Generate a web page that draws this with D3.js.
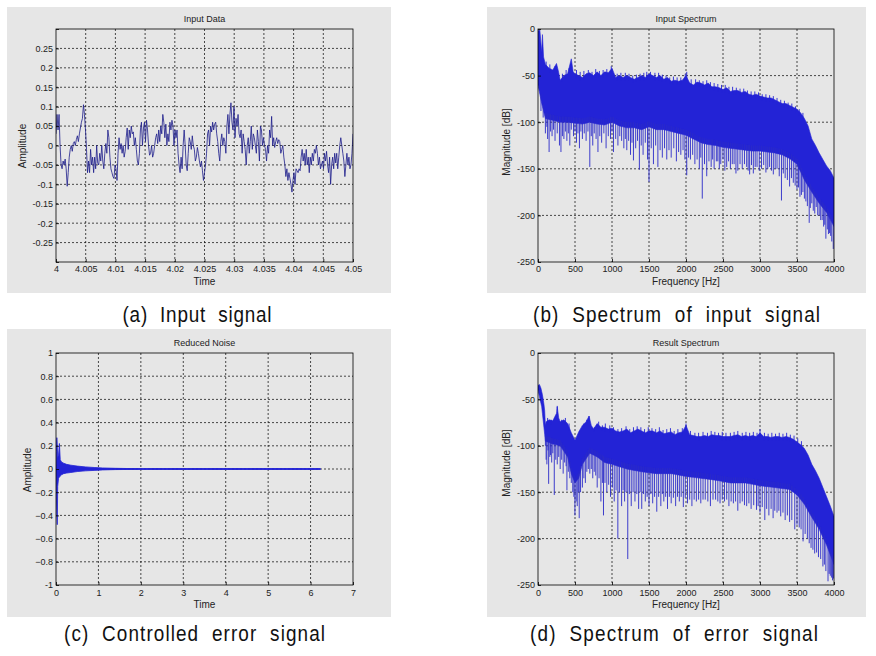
<!DOCTYPE html>
<html><head><meta charset="utf-8">
<script src="https://cdn.jsdelivr.net/npm/d3@7"></script>
<style>
body{margin:0;background:#fff;}
text{font-family:"Liberation Sans",Arial,Helvetica,sans-serif;}
text.cap{white-space:pre;}
</style>
</head><body>
<svg id="chart" width="876" height="656"></svg>
<script>
// ---------------- DATA ----------------
// (a) Input Data: time 4.00 .. 4.05 s, evenly sampled amplitude readings
const inputTimeStart = 4.0, inputTimeEnd = 4.05;
const inputAmp = [
 0.03,0.08,0.04,0.08,0.0,-0.05,-0.06,-0.04,-0.05,-0.035,-0.06,-0.105,-0.07,-0.03,-0.01,0.0,-0.015,0.005,0.01,0.0,0.015,0.025,0.01,0.03,0.045,0.06,0.07,0.105,0.08,0.04,-0.01,
 -0.07,-0.04,-0.07,-0.01,-0.05,-0.03,-0.07,-0.03,-0.06,0.0,-0.045,-0.05,-0.02,-0.04,0.0,-0.04,-0.06,-0.02,0.005,-0.02,0.04,0.02,-0.03,-0.06,-0.07,-0.08,-0.085,-0.05,
 -0.06,-0.09,-0.02,0.02,-0.01,0.005,-0.02,0.0,-0.03,-0.015,0.02,0.045,-0.01,0.04,0.02,0.05,0.03,0.035,0.0,0.02,-0.01,-0.04,-0.05,-0.02,0.04,0.06,0.0,0.045,0.06,
 0.01,0.065,0.04,0.0,-0.025,-0.02,0.0,-0.03,-0.02,0.0,0.02,0.03,0.005,0.04,0.01,0.05,0.03,0.08,0.06,0.02,0.055,0.0,0.03,0.01,0.06,0.04,0.065,0.05,0.0,
 0.04,0.02,0.04,-0.02,-0.05,-0.07,-0.03,-0.06,0.0,0.04,0.0,-0.05,-0.065,-0.02,0.02,0.01,-0.01,0.025,0.0,-0.01,-0.04,-0.03,-0.005,-0.02,-0.04,-0.055,-0.04,-0.065,-0.09,
 -0.07,-0.05,-0.02,0.03,0.04,0.0,0.05,0.035,0.06,0.04,0.055,0.06,0.03,0.01,-0.02,-0.04,0.01,0.03,0.0,0.02,0.01,-0.02,0.05,0.08,0.03,0.08,0.11,0.06,0.04,
 0.1,0.02,0.07,0.05,0.08,0.03,0.02,0.04,-0.02,0.03,0.01,-0.01,-0.05,0.0,0.02,-0.02,0.01,0.05,-0.01,0.03,0.02,0.0,-0.02,0.04,0.01,-0.04,0.05,0.04,0.0,
 0.02,0.0,-0.01,-0.04,0.0,-0.02,0.04,0.02,0.075,0.0,0.02,-0.005,0.01,0.02,0.005,0.015,0.01,-0.02,-0.01,0.0,-0.03,-0.05,-0.08,-0.06,-0.09,-0.07,-0.085,-0.1,-0.12,-0.09,
 -0.07,-0.1,-0.06,-0.065,-0.07,-0.06,-0.065,-0.03,-0.01,-0.04,-0.02,-0.05,-0.01,-0.05,-0.03,-0.07,-0.03,-0.05,-0.02,-0.04,-0.01,-0.02,0.0,-0.02,-0.05,-0.03,-0.06,-0.05,-0.04,-0.06,
 -0.02,-0.04,-0.015,-0.05,-0.07,-0.03,-0.1,-0.05,-0.03,-0.06,-0.02,-0.045,-0.02,-0.06,-0.03,0.0,0.02,0.0,-0.02,-0.04,-0.08,-0.05,-0.02,-0.05,-0.03,-0.06,-0.05,-0.02,0.03
];
const inputXTicks = [4,4.005,4.01,4.015,4.02,4.025,4.03,4.035,4.04,4.045,4.05];
const inputXTickLabels = ["4","4.005","4.01","4.015","4.02","4.025","4.03","4.035","4.04","4.045","4.05"];
const inputYTicks = [-0.3,-0.25,-0.2,-0.15,-0.1,-0.05,0,0.05,0.1,0.15,0.2,0.25,0.3];
const inputYTickLabels = ["","-0.25","-0.2","-0.15","-0.1","-0.05","0","0.05","0.1","0.15","0.2","0.25",""];

// (b) Input Spectrum: band upper envelope, lower envelope, downward spikes, upward peaks (Hz, dB)
const inSpecUpperF = [0,25,50,60,75,100,125,150,200,250,275,300,350,400,450,475,500,550,600,650,700,750,800,850,900,950,1000,1050,1100,1150,1200,1250,1300,1350,1400,1450,1500,1550,1600,1650,1700,1750,1800,1850,1900,1950,2000,2050,2100,2150,2200,2250,2300,2350,2400,2450,2500,2550,2600,2650,2700,2750,2800,2850,2900,2950,3000,3050,3100,3150,3200,3250,3300,3350,3400,3450,3500,3550,3600,3650,3700,3750,3800,3850,3900,3950,4000];
const inSpecUpperDb = [-2,-1,-25,-6,-30,-38,-40,-42,-44,-37,-45,-55,-50,-48,-32,-46,-48,-50,-52,-48,-47,-50,-46,-50,-46,-47,-42,-52,-50,-52,-50,-52,-54,-52,-50,-52,-48,-50,-52,-50,-54,-52,-56,-55,-56,-55,-50,-58,-60,-57,-58,-60,-58,-62,-62,-63,-65,-63,-67,-66,-66,-68,-67,-70,-71,-70,-72,-73,-74,-74,-76,-78,-80,-80,-82,-84,-86,-90,-96,-104,-118,-125,-133,-140,-147,-152,-160];
const inSpecLowerF = [0,50,100,200,300,400,500,600,700,800,900,1000,1100,1200,1300,1400,1500,1600,1700,1800,1900,2000,2100,2200,2300,2400,2500,2600,2700,2800,2900,3000,3100,3200,3300,3400,3500,3600,3700,3800,3900,4000];
const inSpecLowerDb = [-60,-80,-96,-98,-100,-100,-101,-102,-100,-102,-103,-100,-104,-106,-106,-108,-105,-108,-108,-110,-112,-114,-118,-122,-124,-125,-127,-128,-129,-130,-131,-131,-132,-133,-135,-139,-145,-162,-175,-187,-197,-212];
const inSpecSpikeF = [40,70,100,120,130,150,170,190,210,230,260,290,310,330,350,370,390,410,430,450,480,500,520,540,560,580,600,625,650,675,700,720,740,760,785,810,835,860,890,920,950,980,1000,1020,1050,1080,1105,1130,1160,1180,1200,1225,1250,1270,1290,1320,1345,1370,1395,1420,1450,1480,1500,1530,1560,1590,1620,1650,1680,1710,1740,1770,1800,1835,1870,1900,1930,1960,1985,2010,2035,2060,2090,2120,2150,2180,2200,2220,2250,2280,2310,2340,2360,2380,2410,2430,2450,2470,2500,2525,2550,2575,2600,2625,2650,2675,2700,2730,2760,2790,2820,2840,2860,2885,2910,2935,2960,2990,3020,3050,3080,3105,3130,3155,3180,3205,3230,3260,3290,3315,3340,3370,3400,3425,3450,3475,3500,3520,3540,3560,3580,3600,3620,3640,3665,3680,3700,3720,3740,3760,3780,3800,3820,3840,3860,3875,3890,3910,3925,3940,3955,3970,3990];
const inSpecSpikeDb = [-88,-95,-112,-105,-118,-132,-110,-115,-108,-120,-112,-125,-132,-115,-118,-110,-120,-112,-125,-108,-115,-110,-122,-112,-128,-110,-118,-112,-120,-110,-148,-115,-125,-112,-118,-132,-115,-122,-112,-128,-115,-118,-110,-132,-118,-125,-115,-120,-128,-118,-130,-120,-135,-122,-141,-128,-120,-151,-125,-135,-122,-140,-164,-128,-145,-125,-148,-130,-138,-128,-140,-130,-138,-128,-142,-132,-135,-130,-140,-157,-138,-140,-135,-145,-140,-150,-138,-182,-145,-158,-142,-148,-140,-150,-142,-142,-150,-145,-140,-152,-148,-142,-150,-145,-145,-155,-152,-145,-150,-145,-148,-152,-156,-146,-155,-148,-148,-152,-150,-146,-154,-150,-148,-152,-156,-150,-150,-158,-184,-155,-160,-162,-169,-160,-165,-168,-172,-170,-180,-178,-175,-182,-185,-190,-208,-192,-187,-195,-198,-191,-200,-200,-205,-205,-212,-210,-225,-215,-220,-219,-222,-228,-236];
const inSpecPeakF = [110,160,230,330,380,420,520,570,620,680,730,780,830,880,930,990,1070,1120,1180,1230,1280,1330,1380,1430,1470,1520,1580,1630,1680,1730,1780,1830,1880,1930,1990,2010,2070,2130,2180,2230,2280,2330,2380,2430,2480,2530,2580,2630,2680,2730,2780,2830,2880,2930,2980,3030,3080,3130,3180,3230,3280,3330,3380,3430,3480,3530,3580];
const inSpecPeakDb = [-35,-38,-40,-48,-44,-42,-44,-46,-45,-44,-46,-43,-45,-44,-43,-40,-48,-47,-47,-48,-50,-49,-48,-47,-46,-46,-47,-47,-49,-50,-52,-51,-52,-52,-48,-46,-54,-54,-55,-56,-55,-57,-58,-59,-60,-60,-62,-62,-63,-64,-64,-66,-67,-67,-68,-70,-70,-71,-72,-74,-76,-77,-79,-80,-83,-86,-90];

// (c) Reduced Noise: envelope of the decaying error signal (time s, amplitude)
const noiseT = [0,0.01,0.02,0.03,0.04,0.06,0.08,0.1,0.13,0.18,0.25,0.35,0.5,0.7,0.9,1.1,1.4,1.7,2.0,6.23];
const noiseUpper = [0,0.15,0.27,0.2,0.1,0.12,0.22,0.08,0.06,0.05,0.04,0.033,0.025,0.018,0.013,0.009,0.006,0.004,0.003,0.003];
const noiseLower = [0,-0.25,-0.4,-0.48,-0.15,-0.08,-0.07,-0.06,-0.05,-0.04,-0.035,-0.03,-0.022,-0.016,-0.012,-0.008,-0.005,-0.004,-0.003,-0.003];
const noiseXTicks = [0,1,2,3,4,5,6,7];
const noiseYTicks = [-1,-0.8,-0.6,-0.4,-0.2,0,0.2,0.4,0.6,0.8,1];

// (d) Result Spectrum
const resSpecUpperF = [0,20,40,60,80,90,100,110,150,200,250,260,280,300,350,400,450,500,550,600,650,690,720,750,800,850,900,950,1000,1050,1100,1150,1200,1250,1300,1350,1400,1450,1500,1550,1600,1650,1700,1750,1800,1850,1900,1950,2000,2050,2100,2150,2200,2250,2300,2350,2400,2450,2500,2550,2600,2650,2700,2750,2800,2850,2900,2950,3000,3050,3100,3150,3200,3250,3300,3350,3400,3450,3500,3550,3600,3650,3700,3750,3800,3850,3900,3950,4000];
const resSpecUpperDb = [-35,-34,-38,-45,-55,-62,-78,-74,-72,-73,-65,-58,-70,-74,-72,-76,-86,-94,-85,-78,-74,-68,-78,-82,-76,-80,-80,-82,-81,-84,-85,-84,-82,-86,-84,-82,-84,-86,-84,-84,-86,-84,-87,-86,-85,-88,-86,-85,-78,-88,-89,-90,-90,-89,-90,-88,-89,-89,-90,-90,-90,-89,-88,-90,-89,-90,-89,-90,-86,-90,-90,-91,-90,-90,-91,-90,-91,-93,-96,-99,-103,-110,-120,-127,-135,-145,-155,-165,-176];
const resSpecLowerF = [0,50,80,100,200,300,400,450,500,550,600,700,800,900,1000,1200,1400,1600,1800,2000,2200,2400,2600,2800,3000,3200,3400,3500,3600,3700,3800,3900,4000];
const resSpecLowerDb = [-40,-58,-80,-95,-98,-100,-112,-130,-140,-135,-120,-108,-112,-118,-120,-125,-128,-130,-130,-133,-135,-137,-140,-140,-143,-145,-147,-153,-163,-177,-190,-207,-228];
const resSpecSpikeF = [100,110,120,135,144,160,170,185,200,220,240,260,280,300,320,340,360,380,391,410,430,450,470,485,499,515,530,545,557,575,600,620,640,660,680,700,720,740,760,780,800,825,850,870,885,905,930,955,980,1005,1030,1055,1079,1100,1130,1150,1170,1190,1213,1235,1260,1285,1310,1335,1360,1380,1402,1425,1450,1475,1500,1525,1550,1575,1605,1630,1660,1680,1700,1725,1750,1775,1800,1830,1860,1885,1910,1935,1964,1990,2020,2050,2080,2110,2140,2170,2200,2230,2260,2295,2330,2365,2400,2430,2460,2490,2520,2550,2580,2610,2640,2670,2700,2730,2760,2790,2820,2850,2880,2915,2953,2975,3000,3030,3065,3090,3120,3150,3177,3200,3230,3255,3280,3310,3340,3370,3400,3430,3470,3500,3530,3555,3582,3610,3640,3665,3690,3715,3739,3765,3790,3820,3850,3870,3890,3919,3935,3950,3965,3980,3995];
const resSpecSpikeDb = [-100,-115,-120,-105,-141,-112,-110,-118,-108,-153,-115,-120,-112,-125,-115,-130,-118,-122,-148,-128,-135,-140,-150,-155,-175,-160,-165,-150,-178,-150,-145,-135,-140,-128,-125,-130,-125,-135,-128,-132,-145,-135,-160,-140,-175,-140,-150,-142,-155,-145,-160,-148,-200,-150,-165,-148,-160,-150,-222,-152,-165,-150,-160,-152,-168,-150,-168,-152,-160,-155,-165,-152,-162,-155,-171,-155,-165,-152,-160,-155,-168,-155,-162,-156,-165,-155,-160,-155,-166,-156,-162,-158,-165,-158,-160,-158,-162,-158,-158,-160,-165,-158,-158,-160,-162,-158,-160,-158,-165,-160,-162,-160,-170,-162,-160,-164,-165,-162,-168,-164,-169,-165,-172,-166,-180,-168,-175,-168,-178,-170,-172,-170,-176,-172,-180,-175,-182,-180,-190,-185,-188,-190,-203,-195,-200,-205,-210,-212,-216,-215,-220,-222,-230,-228,-235,-246,-238,-240,-242,-245,-243];
const resSpecPeakF = [130,180,230,260,320,370,420,560,620,660,690,760,820,870,910,970,1020,1080,1130,1190,1240,1290,1340,1390,1440,1490,1540,1590,1640,1690,1740,1790,1840,1890,1950,2000,2060,2120,2170,2230,2290,2340,2390,2440,2490,2540,2600,2650,2700,2760,2810,2860,2910,2960,3000,3060,3110,3160,3210,3260,3310,3360,3410,3460,3510,3560];
const resSpecPeakDb = [-70,-72,-70,-57,-72,-70,-76,-84,-76,-72,-68,-80,-74,-78,-76,-78,-80,-82,-81,-79,-82,-80,-79,-80,-82,-80,-81,-82,-80,-83,-82,-81,-84,-82,-81,-76,-84,-86,-86,-85,-86,-84,-85,-86,-85,-86,-86,-85,-84,-86,-85,-86,-85,-86,-82,-86,-87,-86,-87,-86,-87,-86,-88,-89,-92,-95];

const specXTicks = [0,500,1000,1500,2000,2500,3000,3500,4000];
const specYTicks = [-250,-200,-150,-100,-50,0];

const captions = ["(a)  Input  signal","(b)  Spectrum  of  input  signal","(c)  Controlled  error  signal","(d)  Spectrum  of  error  signal"];

// ---------------- DRAWING ----------------
const svg = d3.select("#chart");
const PANEL_BG = "#e6e6e6";
const BAND = "#2323d6";
const SPIKE = "#2a2ac8";

function panel(cfg){
  const g = svg.append("g");
  g.append("rect").attr("x",cfg.gx).attr("y",cfg.gy).attr("width",cfg.gw).attr("height",cfg.gh).attr("fill",PANEL_BG);
  const x = d3.scaleLinear().domain(cfg.xDomain).range([cfg.left,cfg.right]);
  const y = d3.scaleLinear().domain(cfg.yDomain).range([cfg.bottom,cfg.top]);
  const pw = cfg.right-cfg.left, ph = cfg.bottom-cfg.top;
  const id = "clip"+cfg.id;
  svg.append("clipPath").attr("id",id).append("rect").attr("x",cfg.left).attr("y",cfg.top).attr("width",pw).attr("height",ph);

  const grid = g.append("g").attr("stroke","#111").attr("stroke-width",0.75).attr("stroke-dasharray","2,2");
  grid.selectAll("line.vx").data(cfg.xTicks.filter(v=>v>cfg.xDomain[0]&&v<cfg.xDomain[1])).enter().append("line")
    .attr("x1",d=>x(d)).attr("x2",d=>x(d)).attr("y1",cfg.top).attr("y2",cfg.bottom);
  grid.selectAll("line.hy").data(cfg.yTicks.filter(v=>v>cfg.yDomain[0]&&v<cfg.yDomain[1])).enter().append("line")
    .attr("y1",d=>y(d)).attr("y2",d=>y(d)).attr("x1",cfg.left).attr("x2",cfg.right);

  const content = g.append("g").attr("clip-path","url(#"+id+")");
  cfg.draw(content,x,y);

  const ax = g.append("g").attr("transform","translate(0,"+cfg.bottom+")")
    .call(d3.axisBottom(x).tickValues(cfg.xTicks).tickSize(-3).tickPadding(cfg.xPad).tickFormat((d,i)=>cfg.xLabels[i]));
  const ay = g.append("g").attr("transform","translate("+cfg.left+",0)")
    .call(d3.axisLeft(y).tickValues(cfg.yTicks).tickSize(-3).tickPadding(3).tickFormat((d,i)=>cfg.yLabels[i]));
  [ax,ay].forEach(a=>{
    a.select(".domain").remove();
    a.selectAll("line").attr("stroke","#000").attr("stroke-width",0.8);
    a.selectAll("text").attr("font-size",9).attr("fill","#222").attr("font-family","Liberation Sans, Arial, sans-serif");
  });
  g.append("rect").attr("x",cfg.left).attr("y",cfg.top).attr("width",pw).attr("height",ph)
    .attr("fill","none").attr("stroke","#000").attr("stroke-width",0.8);
  g.append("text").attr("x",(cfg.left+cfg.right)/2).attr("y",cfg.titleY).attr("text-anchor","middle")
    .attr("font-size",9).attr("fill","#222").text(cfg.title);
  g.append("text").attr("x",(cfg.left+cfg.right)/2).attr("y",cfg.xlabY).attr("text-anchor","middle")
    .attr("font-size",10).attr("fill","#222").text(cfg.xlabel);
  g.append("text").attr("transform","translate("+cfg.ylabX+","+cfg.ylabY+") rotate(-90)").attr("text-anchor","middle")
    .attr("font-size",10).attr("fill","#222").text(cfg.ylabel);
}

function specDraw(uF,uD,lF,lD,sF,sD,pF,pD){
  return function(c,x,y){
    const lowAt = d3.scaleLinear().domain(lF).range(lD);
    const upAt = d3.scaleLinear().domain(uF).range(uD);
    const fs = Array.from(new Set(uF.concat(lF))).sort((a,b)=>a-b);
    const pts = fs.map(f=>({f:f,u:upAt(f),l:lowAt(f)}));
    c.append("path").datum(pts).attr("fill",BAND).attr("stroke",BAND).attr("stroke-width",0.6)
      .attr("d",d3.area().x(d=>x(d.f)).y0(d=>y(d.l)).y1(d=>y(d.u)));
    c.selectAll("line.sp").data(sF.map((f,i)=>({f:f,v:sD[i]}))).enter().append("line")
      .attr("x1",d=>x(d.f)).attr("x2",d=>x(d.f))
      .attr("y1",d=>y(lowAt(d.f)+6)).attr("y2",d=>y(d.v))
      .attr("stroke",SPIKE).attr("stroke-width",0.9);
    c.selectAll("line.pk").data(pF.map((f,i)=>({f:f,v:pD[i]}))).enter().append("line")
      .attr("x1",d=>x(d.f)).attr("x2",d=>x(d.f))
      .attr("y1",d=>y(upAt(d.f)-4)).attr("y2",d=>y(d.v))
      .attr("stroke",BAND).attr("stroke-width",0.9);
  };
}

panel({id:"a",gx:7,gy:7,gw:384,gh:286,left:56,right:353,top:29,bottom:262,
  xDomain:[4,4.05],yDomain:[-0.3,0.3],xTicks:inputXTicks,xLabels:inputXTickLabels,
  yTicks:inputYTicks,yLabels:inputYTickLabels,xPad:4,
  title:"Input Data",titleY:22,xlabel:"Time",xlabY:285,ylabel:"Amplitude",ylabX:26,ylabY:146,
  draw:(c,x,y)=>{
    const n = inputAmp.length;
    const dt = (inputTimeEnd-inputTimeStart)/(n-1);
    c.append("path").datum(inputAmp).attr("fill","none").attr("stroke","#1c1c8a").attr("stroke-width",0.8)
      .attr("d",d3.line().x((d,i)=>x(inputTimeStart+i*dt)).y(d=>y(d)));
  }});

panel({id:"b",gx:487,gy:7,gw:379,gh:286,left:538,right:834,top:29,bottom:262,
  xDomain:[0,4000],yDomain:[-250,0],xTicks:specXTicks,xLabels:specXTicks.map(String),
  yTicks:specYTicks,yLabels:specYTicks.map(String),xPad:4,
  title:"Input Spectrum",titleY:22,xlabel:"Frequency [Hz]",xlabY:285,ylabel:"Magnitude [dB]",ylabX:510,ylabY:142,
  draw:specDraw(inSpecUpperF,inSpecUpperDb,inSpecLowerF,inSpecLowerDb,inSpecSpikeF,inSpecSpikeDb,inSpecPeakF,inSpecPeakDb)});

panel({id:"c",gx:7,gy:329,gw:384,gh:288,left:56,right:353,top:353,bottom:585,
  xDomain:[0,7],yDomain:[-1,1],xTicks:noiseXTicks,xLabels:noiseXTicks.map(String),
  yTicks:noiseYTicks,yLabels:noiseYTicks.map(d=>d===0?"0":(d===1||d===-1?String(d):d3.format(".1f")(d))),xPad:4.5,
  title:"Reduced Noise",titleY:346,xlabel:"Time",xlabY:608,ylabel:"Amplitude",ylabX:31,ylabY:470,
  draw:(c,x,y)=>{
    const pts = noiseT.map((t,i)=>({t:t,u:noiseUpper[i],l:noiseLower[i]}));
    c.append("path").datum(pts).attr("fill",BAND).attr("stroke",BAND).attr("stroke-width",0.8)
      .attr("d",d3.area().x(d=>x(d.t)).y0(d=>y(d.l)).y1(d=>y(d.u)));
    c.append("line").attr("x1",x(noiseT[0])).attr("x2",x(noiseT[noiseT.length-1]))
      .attr("y1",y(0)).attr("y2",y(0)).attr("stroke",BAND).attr("stroke-width",1.3);
  }});

panel({id:"d",gx:487,gy:329,gw:379,gh:288,left:538,right:834,top:353,bottom:585,
  xDomain:[0,4000],yDomain:[-250,0],xTicks:specXTicks,xLabels:specXTicks.map(String),
  yTicks:specYTicks,yLabels:specYTicks.map(String),xPad:4.5,
  title:"Result Spectrum",titleY:346,xlabel:"Frequency [Hz]",xlabY:608,ylabel:"Magnitude [dB]",ylabX:510,ylabY:463,
  draw:specDraw(resSpecUpperF,resSpecUpperDb,resSpecLowerF,resSpecLowerDb,resSpecSpikeF,resSpecSpikeDb,resSpecPeakF,resSpecPeakDb)});

// captions: slightly condensed glyphs, wide word gaps, fitted to the measured widths
const capPos = [{x:122.5,w:149,y:321.5},{x:533,w:287,y:321.5},{x:64,w:261,y:640.5},{x:530,w:288,y:640.5}];
const SQ = 0.88;
svg.selectAll("text.cap").data(captions).enter().append("text").attr("class","cap")
  .attr("transform",(d,i)=>"translate("+capPos[i].x+","+capPos[i].y+") scale("+SQ+",1)")
  .attr("x",0).attr("y",0)
  .attr("font-size",21.5).attr("fill","#111").text(d=>d)
  .each(function(d,i){
    const target = capPos[i].w/SQ;
    const natural = this.getComputedTextLength();
    d3.select(this).attr("textLength",target)
      .attr("lengthAdjust", natural <= target ? "spacing" : "spacingAndGlyphs");
  });
</script>
</body></html>
